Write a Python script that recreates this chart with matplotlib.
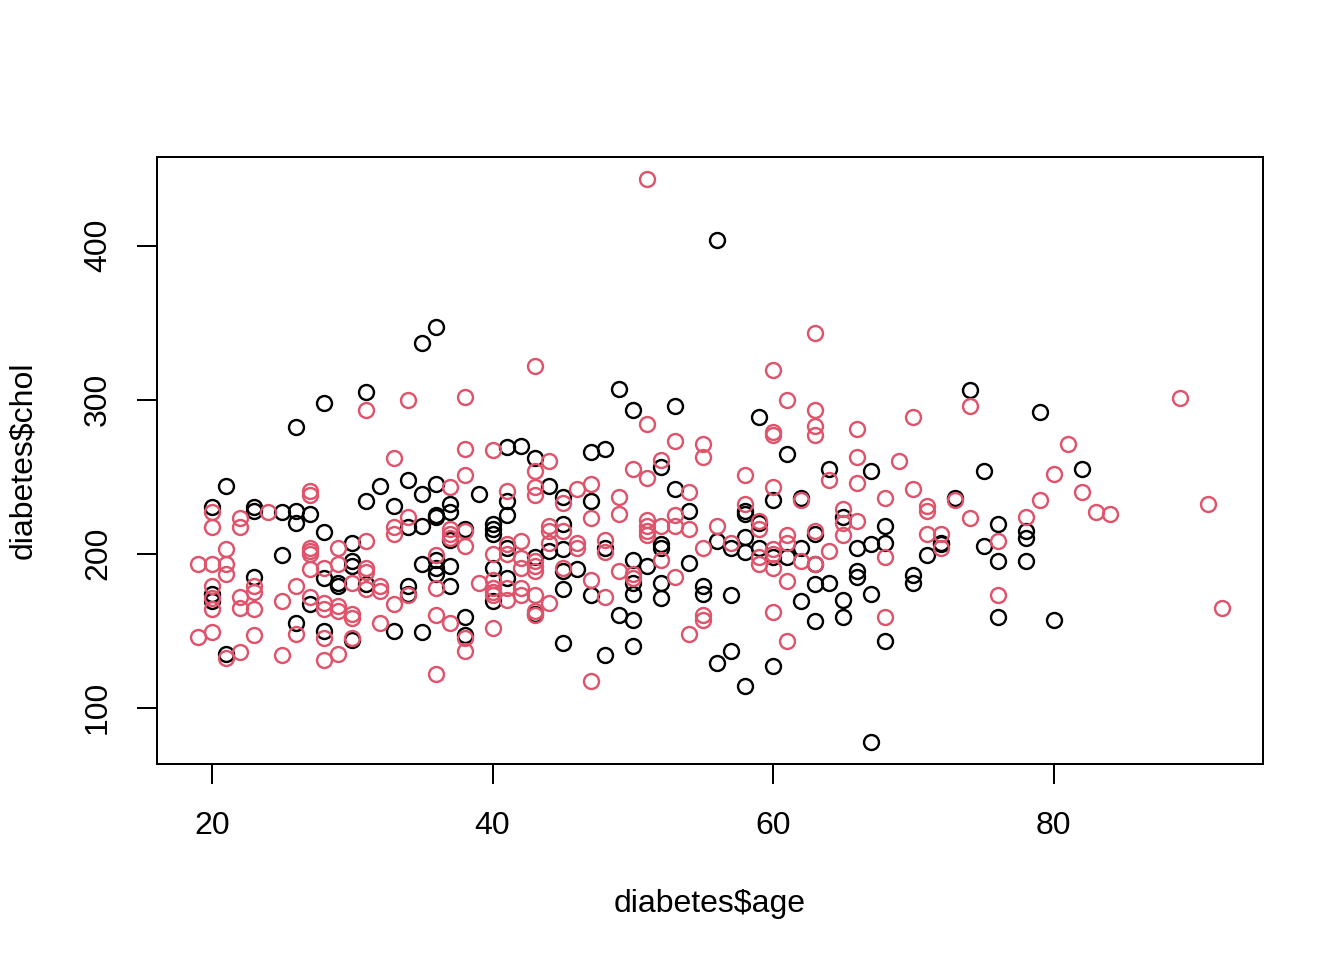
import matplotlib
matplotlib.use("Agg")
import matplotlib.pyplot as plt

plt.rcParams['font.family'] = ['Liberation Sans', 'DejaVu Sans']

# black points (gender level 1)
female_age = [
    20, 20, 20,
    21, 21,
    23, 23, 23,
    25, 25,
    26, 26, 26, 26,
    27, 27,
    28, 28, 28, 28,
    29, 29,
    30, 30, 30, 30,
    31, 31, 31,
    32,
    33, 33,
    34, 34, 34, 34,
    35, 35, 35, 35, 35,
    36, 36, 36, 36, 36, 36, 36,
    37, 37, 37, 37, 37,
    38, 38, 38,
    39,
    40, 40, 40, 40, 40,
    41, 41, 41, 41, 41,
    42,
    43, 43, 43,
    44, 44,
    45, 45, 45, 45, 45, 45,
    46,
    47, 47, 47,
    48, 48, 48,
    49, 49,
    50, 50, 50, 50, 50, 50,
    51,
    52, 52, 52, 52, 52,
    53, 53,
    54, 54,
    55, 55,
    56, 56, 56,
    57, 57, 57,
    58, 58, 58, 58, 58,
    59, 59, 59,
    60, 60, 60,
    61, 61,
    62, 62, 62,
    63, 63, 63, 63,
    64, 64,
    65, 65, 65,
    66, 66, 66,
    67, 67, 67, 67,
    68, 68, 68,
    70, 70,
    71,
    72, 72,
    73,
    74,
    75, 75,
    76, 76, 76,
    78, 78, 78,
    79,
    80,
    82,
]
female_chol = [
    230, 174, 169,
    244, 135,
    230, 228, 185,
    227, 199,
    282, 228, 220, 155,
    226, 167,
    298, 214, 184, 150,
    181, 179,
    207, 195, 192, 144,
    305, 234, 180,
    244,
    231, 150,
    248, 217, 179, 174,
    337, 239, 218, 193, 149,
    347, 245, 225, 224, 196, 191, 187,
    232, 227, 209, 192, 179,
    216, 159, 147,
    239,
    219, 216, 213, 191, 169,
    269, 234, 225, 204, 184,
    270,
    262, 198, 161,
    244, 202,
    237, 219, 203, 189, 177, 142,
    190,
    266, 234, 173,
    268, 204, 134,
    307, 160,
    293, 196, 181, 174, 157, 140,
    192,
    256, 206, 204, 181, 171,
    296, 242,
    228, 194,
    179, 174,
    404, 208, 129,
    204, 173, 137,
    228, 226, 211, 201, 114,
    289, 220, 204,
    235, 198, 127,
    265, 198,
    236, 204, 169,
    213, 193, 180, 156,
    255, 181,
    224, 170, 159,
    204, 189, 185,
    254, 206, 174, 78,
    218, 207, 143,
    186, 181,
    199,
    207, 206,
    236,
    306,
    254, 205,
    219, 195, 159,
    215, 210, 195,
    292,
    157,
    255,
]

# red points (gender level 2)
male_age = [
    19, 19,
    20, 20, 20, 20, 20, 20, 20,
    21, 21, 21, 21,
    22, 22, 22, 22, 22,
    23, 23, 23, 23,
    24,
    25, 25,
    26, 26,
    27, 27, 27, 27, 27, 27, 27,
    28, 28, 28, 28, 28,
    29, 29, 29, 29, 29,
    30, 30, 30, 30,
    31, 31, 31, 31, 31,
    32, 32, 32,
    33, 33, 33, 33,
    34, 34, 34,
    36, 36, 36, 36,
    37, 37, 37, 37, 37,
    38, 38, 38, 38, 38, 38, 38,
    39,
    40, 40, 40, 40, 40, 40, 40,
    41, 41, 41, 41, 41,
    42, 42, 42, 42, 42,
    43, 43, 43, 43, 43, 43, 43, 43, 43, 43,
    44, 44, 44, 44, 44,
    45, 45, 45,
    46, 46, 46,
    47, 47, 47, 47,
    48, 48, 48,
    49, 49, 49,
    50, 50, 50,
    51, 51, 51, 51, 51, 51, 51,
    52, 52, 52,
    53, 53, 53, 53,
    54, 54, 54,
    55, 55, 55, 55, 55,
    56,
    57,
    58, 58,
    59, 59, 59, 59,
    60, 60, 60, 60, 60, 60, 60, 60,
    61, 61, 61, 61, 61,
    62, 62,
    63, 63, 63, 63, 63, 63,
    64, 64,
    65, 65, 65,
    66, 66, 66, 66,
    68, 68, 68,
    69,
    70, 70,
    71, 71, 71,
    72, 72,
    73,
    74, 74,
    76, 76,
    78,
    79,
    80,
    81,
    82,
    83,
    84,
    89,
    91,
    92,
]
male_chol = [
    193, 146,
    227, 217, 193, 179, 171, 164, 149,
    203, 193, 187, 132,
    223, 217, 172, 165, 136,
    179, 175, 164, 147,
    227,
    169, 134,
    179, 148,
    241, 238, 204, 202, 200, 190, 172,
    191, 168, 164, 145, 131,
    204, 193, 166, 163, 135,
    181, 161, 158, 145,
    293, 208, 191, 188, 177,
    179, 176, 155,
    262, 217, 213, 167,
    300, 224, 173,
    199, 178, 160, 122,
    243, 216, 213, 210, 155,
    302, 268, 251, 215, 205, 145, 137,
    181,
    267, 200, 183, 178, 175, 173, 152,
    241, 206, 200, 178, 170,
    208, 197, 191, 178, 173,
    322, 254, 243, 238, 195, 192, 189, 173, 163, 160,
    260, 218, 215, 207, 168,
    233, 215, 191,
    242, 207, 204,
    245, 223, 183, 117,
    209, 201, 172,
    237, 226, 189,
    255, 187, 184,
    443, 284, 249, 222, 218, 215, 212,
    261, 218, 196,
    273, 225, 218, 185,
    240, 216, 148,
    271, 263, 204, 160, 157,
    218,
    207,
    251, 232,
    221, 216, 198, 193,
    319, 279, 277, 243, 203, 200, 191, 162,
    300, 212, 207, 182, 143,
    235, 195,
    343, 293, 283, 277, 215, 193,
    248, 202,
    229, 220, 212,
    281, 263, 246, 221,
    236, 198, 159,
    260,
    289, 242,
    231, 228, 213,
    213, 204,
    235,
    296, 223,
    208, 173,
    224,
    235,
    252,
    271,
    240,
    227,
    226,
    301,
    232,
    165,
]

x_ticks = [20, 40, 60, 80]
y_ticks = [100, 200, 300, 400]

assert len(female_age) == len(female_chol)
assert len(male_age) == len(male_chol)

fig = plt.figure(figsize=(7, 5), dpi=192)
ax = fig.add_axes([157 / 1344, 1 - 764 / 960, (1263 - 157) / 1344, (764 - 157) / 960])

ax.plot(female_age, female_chol, linestyle='none', marker='o', ms=5.6,
        mfc='none', mec='black', mew=0.9)
ax.plot(male_age, male_chol, linestyle='none', marker='o', ms=5.6,
        mfc='none', mec='#DF536B', mew=0.9)

# R style 4% padding around the data range
all_x = female_age + male_age
all_y = female_chol + male_chol
dx = (max(all_x) - min(all_x)) * 0.04
dy = (max(all_y) - min(all_y)) * 0.04
ax.set_xlim(min(all_x) - dx, max(all_x) + dx)
ax.set_ylim(min(all_y) - dy, max(all_y) + dy)

ax.set_xticks(x_ticks)
ax.set_yticks(y_ticks)
ax.tick_params(length=7.5, width=0.75, labelsize=12)
ax.tick_params(axis='x', pad=10)
ax.tick_params(axis='y', pad=9)
for lab in ax.get_yticklabels():
    lab.set_rotation(90)
    lab.set_va('center')

for s in ax.spines.values():
    s.set_linewidth(0.75)

ax.set_xlabel(r'diabetes\$age', fontsize=12, labelpad=18)
ax.set_ylabel(r'diabetes\$chol', fontsize=12, labelpad=17)

fig.savefig('out.png', dpi=192)
